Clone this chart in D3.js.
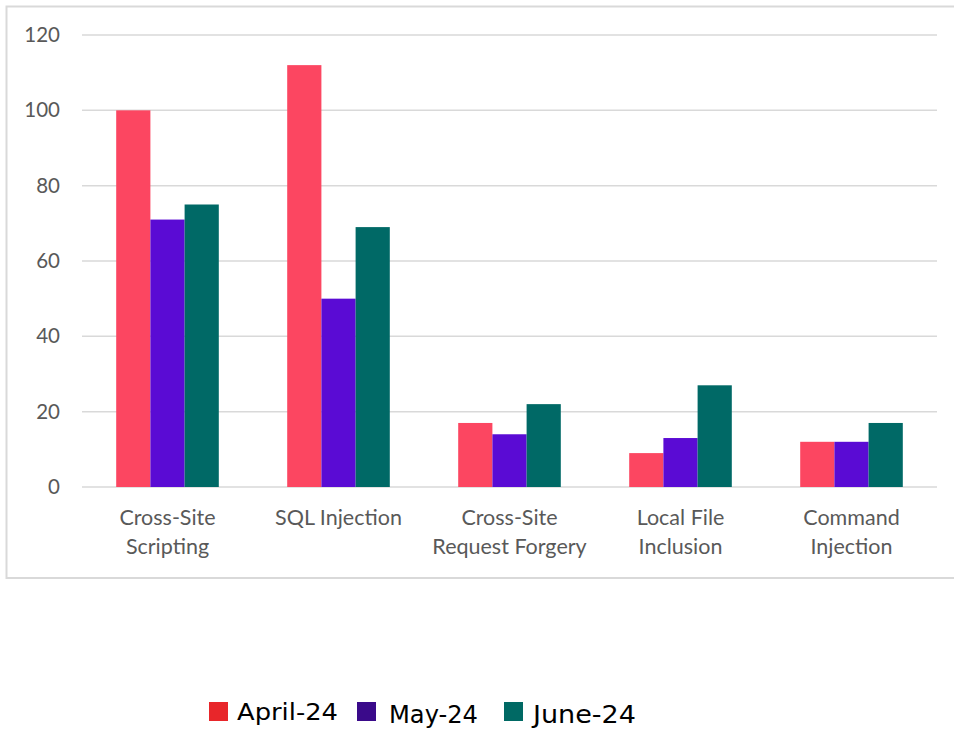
<!DOCTYPE html>
<html>
  <head>
    <meta charset="utf-8">
    <title>Vulnerabilities by month</title>
    <style>
      body { margin: 0; background: #fff; }
      .tick text { font-family: Lato, "Open Sans", sans-serif; }
    </style>
  </head>
  <body>
    <div id="chart"></div>
    <script src="https://d3js.org/d3.v7.min.js"></script>
    <script>
      // data
      var categories = [
        ["Cross-Site", "Scripting"],
        ["SQL Injection"],
        ["Cross-Site", "Request Forgery"],
        ["Local File", "Inclusion"],
        ["Command", "Injection"]
      ];
      var seriesNames = ["April-24", "May-24", "June-24"];
      var april = [100, 112, 17, 9, 12];
      var may = [71, 50, 14, 13, 12];
      var june = [75, 69, 22, 27, 17];
      var yTicks = [0, 20, 40, 60, 80, 100, 120];

      var barColors = ["#fc4661", "#5a0bd4", "#006966"];
      var legendColors = ["#e8262a", "#3a0a8a", "#006964"];
      // legend text styling, per entry
      var legendSizes = [23, 24.5, 24.5];
      var legendWidths = [101, 89, 103];
      var legendBoxX = [209, 357, 504];
      var legendTextX = [237, 389, 533];

      var W = 954, H = 734;
      var margin = {left: 82, top: 35};
      var width = 937 - margin.left,
          height = 487 - margin.top;

      var svg = d3.select("#chart").append("svg")
          .attr("width", W)
          .attr("height", H);

      // chart frame (right side runs off the picture)
      svg.append("rect")
          .attr("x", 6.5).attr("y", 6.5)
          .attr("width", W).attr("height", 571.5)
          .attr("fill", "none")
          .attr("stroke", "#d9d9d9")
          .attr("stroke-width", 2);

      var g = svg.append("g")
          .attr("transform", "translate(" + margin.left + "," + margin.top + ")");

      var keys = categories.map(function(c) { return c.join(" "); });
      var x = d3.scaleBand().domain(keys).range([0, width]).paddingInner(0.4).paddingOuter(0.2);
      var x1 = d3.scaleBand().domain(seriesNames).range([0, x.bandwidth()]);
      var y = d3.scaleLinear().domain([0, 120]).range([height, 0]);

      // gridlines
      g.append("g")
          .selectAll("line")
          .data(yTicks)
          .enter().append("line")
            .attr("x1", 0).attr("x2", width)
            .attr("y1", function(d) { return y(d); })
            .attr("y2", function(d) { return y(d); })
            .attr("stroke", "#d9d9d9")
            .attr("stroke-width", 1.5);

      // y axis labels
      var yAxis = g.append("g")
          .call(d3.axisLeft(y).tickValues(yTicks).tickSize(0).tickPadding(22));
      yAxis.select(".domain").remove();
      yAxis.selectAll("text")
          .attr("fill", "#595959")
          .style("font-size", "20.5px");

      var rows = keys.map(function(k, i) {
        return {key: k, values: [april[i], may[i], june[i]]};
      });

      // bars
      var groups = g.append("g")
          .selectAll("g")
          .data(rows)
          .enter().append("g")
            .attr("transform", function(d) { return "translate(" + x(d.key) + ",0)"; });
      groups.selectAll("rect")
          .data(function(d) { return d.values.map(function(v, j) { return {s: seriesNames[j], v: v, j: j}; }); })
          .enter().append("rect")
            .attr("x", function(d) { return x1(d.s); })
            .attr("y", function(d) { return y(d.v); })
            .attr("width", x1.bandwidth())
            .attr("height", function(d) { return height - y(d.v); })
            .attr("fill", function(d) { return barColors[d.j]; });

      // category labels, two lines
      var xAxis = g.append("g")
          .attr("transform", "translate(0," + height + ")")
          .call(d3.axisBottom(x).tickSize(0).tickFormat(""));
      xAxis.select(".domain").remove();
      xAxis.selectAll(".tick").each(function(d, i) {
        var t = d3.select(this).append("text")
            .attr("fill", "#595959")
            .attr("text-anchor", "middle")
            .style("font-size", "21.5px")
            .attr("y", 38);
        categories[i].forEach(function(line, k) {
          t.append("tspan").attr("x", 0).attr("dy", k === 0 ? 0 : 29).text(line);
        });
      });

      // legend
      var legend = svg.append("g");
      seriesNames.forEach(function(name, i) {
        legend.append("rect")
            .attr("x", legendBoxX[i]).attr("y", 702)
            .attr("width", 19).attr("height", 19)
            .attr("fill", legendColors[i]);
        legend.append("text")
            .attr("x", legendTextX[i])
            .attr("y", i === 0 ? 720 : 723)
            .attr("fill", "#000")
            .attr("textLength", legendWidths[i])
            .attr("lengthAdjust", "spacingAndGlyphs")
            .style("font-family", "'DejaVu Sans', sans-serif")
            .style("font-size", legendSizes[i] + "px")
            .text(name);
      });
    </script>
  </body>
</html>
